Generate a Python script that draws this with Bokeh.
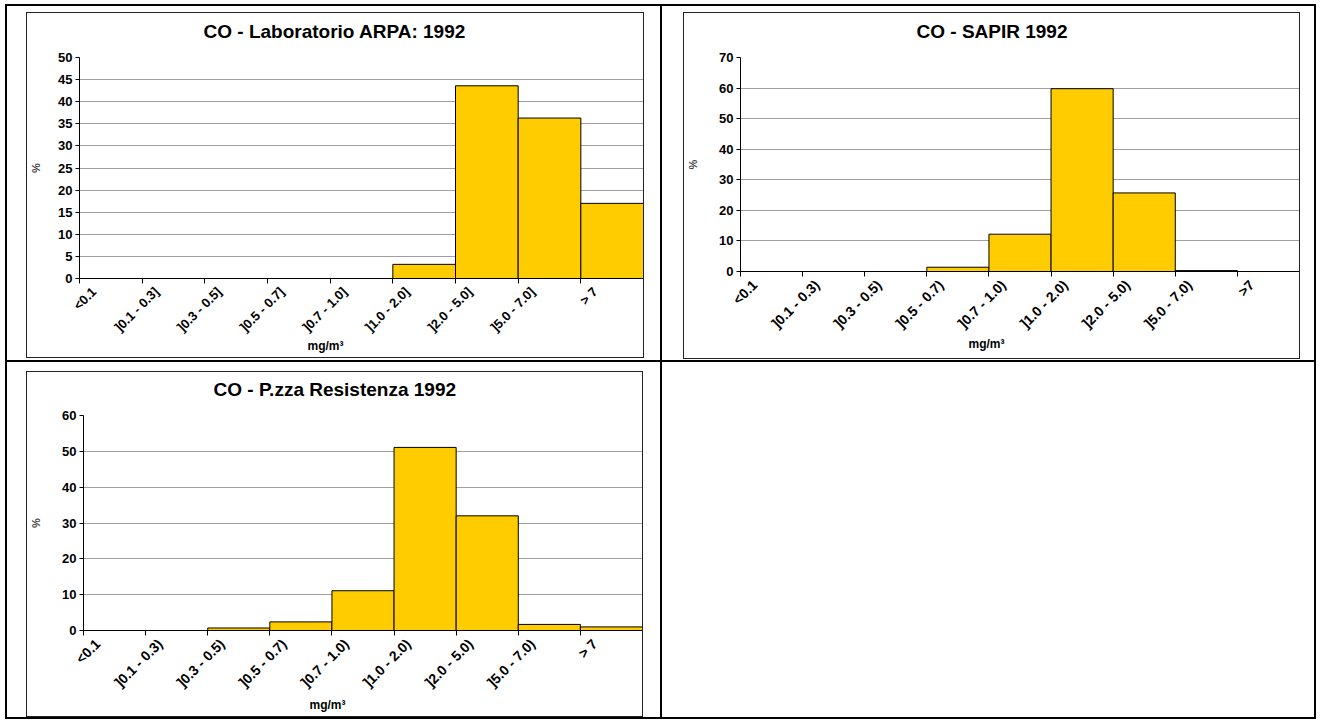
import math
from bokeh.plotting import figure
from bokeh.models import Range1d, FixedTicker, Title, Spacer, LinearAxis
from bokeh.layouts import column, row
from bokeh.embed import file_html
from bokeh.resources import INLINE

FONT = "Liberation Sans"

# ---------------- data ----------------
labels_arpa = ["<0.1", "]0.1 - 0.3]", "]0.3 - 0.5]", "]0.5 - 0.7]", "]0.7 - 1.0]",
               "]1.0 - 2.0]", "]2.0 - 5.0]", "]5.0 - 7.0]", "> 7"]
values_arpa = [0, 0, 0, 0, 0, 3.2, 43.6, 36.3, 17.0]
yticks_arpa = [0, 5, 10, 15, 20, 25, 30, 35, 40, 45, 50]
title_arpa = "CO - Laboratorio ARPA: 1992"

labels_sapir = ["<0.1", "]0.1 - 0.3)", "]0.3 - 0.5)", "]0.5 - 0.7)", "]0.7 - 1.0)",
                "]1.0 - 2.0)", "]2.0 - 5.0)", "]5.0 - 7.0)", ">7"]
values_sapir = [0, 0, 0, 1.4, 12.2, 59.8, 25.7, 0.3, 0]
yticks_sapir = [0, 10, 20, 30, 40, 50, 60, 70]
title_sapir = "CO - SAPIR 1992"

labels_resist = ["<0.1", "]0.1 - 0.3)", "]0.3 - 0.5)", "]0.5 - 0.7)", "]0.7 - 1.0)",
                 "]1.0 - 2.0)", "]2.0 - 5.0)", "]5.0 - 7.0)", "> 7"]
values_resist = [0, 0, 0.7, 2.4, 11.1, 51.1, 32.0, 1.7, 1.0]
yticks_resist = [0, 10, 20, 30, 40, 50, 60]
title_resist = "CO - P.zza Resistenza 1992"

unit_label = "mg/m³"
y_label = "%"

LABEL_SHIFT = 0.27  # rotated labels end a little left of the bin centre


def make_chart(title, labels, values, yticks, w, h, mb, title_off, unit_off, unit_standoff,
               ylab_standoff, xlab_size, margin):
    n = len(labels)
    centers = [i + 0.5 for i in range(n)]
    label_pos = [c - LABEL_SHIFT for c in centers]
    edges = list(range(n + 1))
    p = figure(width=w, height=h, x_range=Range1d(0, n),
               y_range=Range1d(yticks[0], yticks[-1]),
               output_backend="svg", toolbar_location=None,
               min_border_left=mb[0], min_border_right=mb[1],
               min_border_top=mb[2], min_border_bottom=mb[3],
               margin=margin,
               styles={"outline": "1px solid #222"})
    p.background_fill_color = "white"
    p.border_fill_color = "white"
    p.outline_line_color = None

    # invisible spacer (white, label-less axis) above the frame so the title sits higher
    spacer_axis = LinearAxis(ticker=FixedTicker(ticks=[0.02], minor_ticks=[]),
                             major_tick_out=15, major_tick_in=0,
                             major_tick_line_color="white", minor_tick_line_color=None,
                             minor_tick_out=0, axis_line_color=None, major_label_standoff=0,
                             major_label_text_font_size="1px", major_label_text_color=None)
    p.add_layout(spacer_axis, "above")

    p.title.text = title
    p.title.align = "left"
    p.title.offset = title_off
    p.title.standoff = 2
    p.title.text_font = FONT
    p.title.text_font_style = "bold"
    p.title.text_font_size = "19px"
    p.title.text_color = "black"

    p.vbar(x=centers, top=values, bottom=0, width=1.0,
           fill_color="#FFCC00", line_color="black", line_width=1)

    # x axis
    xa = p.below[0]
    xa.ticker = FixedTicker(ticks=label_pos, minor_ticks=edges)
    xa.major_label_overrides = {c: lab for c, lab in zip(label_pos, labels)}
    xa.major_label_orientation = math.pi / 4
    xa.major_tick_line_color = None
    xa.major_tick_out = 0
    xa.major_tick_in = 0
    xa.minor_tick_line_color = "black"
    xa.minor_tick_out = 5
    xa.minor_tick_in = 0
    xa.axis_line_color = "black"
    xa.major_label_standoff = 6
    xa.major_label_text_font = FONT
    xa.major_label_text_font_style = "bold"
    xa.major_label_text_font_size = xlab_size
    xa.major_label_text_color = "black"
    p.xgrid.visible = False

    p.add_layout(Title(text=unit_label, align="left", offset=unit_off, standoff=unit_standoff,
                       text_font=FONT, text_font_style="bold", text_font_size="12px",
                       text_color="black"), "below")

    # y axis
    ya = p.yaxis[0]
    ya.ticker = FixedTicker(ticks=yticks)
    ya.minor_tick_line_color = None
    ya.major_tick_out = 4
    ya.major_tick_in = 0
    ya.major_tick_line_color = "black"
    ya.axis_line_color = "black"
    ya.major_label_standoff = 3
    ya.major_label_text_font = FONT
    ya.major_label_text_font_style = "bold"
    ya.major_label_text_font_size = "13px"
    ya.major_label_text_color = "black"
    ya.axis_label = y_label
    ya.axis_label_text_font = FONT
    ya.axis_label_text_font_style = "bold"
    ya.axis_label_text_font_size = "11px"
    ya.axis_label_standoff = ylab_standoff
    p.ygrid.grid_line_color = "#a0a0a0"
    p.ygrid.grid_line_width = 1
    return p


p1 = make_chart(title_arpa, labels_arpa, values_arpa, yticks_arpa, 616, 344,
                (47, 0, 44, 79), 124, 228, -12, 13, "13px", (7, 17, 3, 20))
p2 = make_chart(title_sapir, labels_sapir, values_sapir, yticks_sapir, 615, 345,
                (55, 0, 44, 87), 176, 228, -9, 17, "14px", (7, 15, 2, 22))
p3 = make_chart(title_resist, labels_resist, values_resist, yticks_resist, 615, 344,
                (54, 0, 43, 86), 130, 226, -6, 17, "14px", (10, 18, 1, 20))

cell = {"border": "1px solid black"}
c1 = column(p1, styles=cell)
c2 = column(p2, styles=cell)
c3 = column(p3, styles=cell)
c4 = column(Spacer(width=652, height=355), styles=cell)

root = column(row(c1, c2), row(c3, c4),
              styles={"border": "1px solid black", "margin-left": "5px", "margin-top": "4px"})

open("out.html", "w").write(file_html(root, INLINE))
